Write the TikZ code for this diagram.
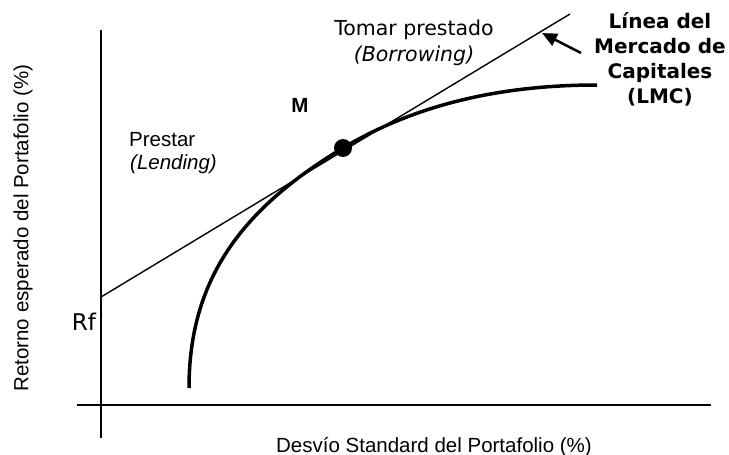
\documentclass[tikz,border=0pt]{standalone}
\usepackage{fontspec}
\setmainfont{DejaVu Sans}
\newfontfamily\arialf{Liberation Sans}
\usetikzlibrary{arrows.meta}
\begin{document}
\begin{tikzpicture}[x=1pt,y=-1pt,
  txt/.style={inner sep=0pt,font=\fontsize{20.5}{24}\selectfont},
  atxt/.style={inner sep=0pt,font=\arialf\fontsize{20.5}{24}\selectfont},
  axis/.style={line width=2pt},
  cml/.style={line width=1.4pt},
  frontier/.style={line width=3.5pt},
  pointer/.style={line width=2.5pt,-{Triangle[length=15pt,width=13pt]}}]
\useasboundingbox (0,0) rectangle (729,455);
% axes
\coordinate (ytop) at (101,30);
\coordinate (ybot) at (101,438);
\coordinate (xl) at (77,405);
\coordinate (xr) at (711,405);
\draw[axis] (ybot) -- (ytop);
\draw[axis] (xl) -- (xr);
% capital market line
\coordinate (rf) at (101,297);
\coordinate (cmlend) at (570,14);
\draw[cml] (rf) -- (cmlend);
% efficient frontier
\coordinate (fs) at (189,388);
\coordinate (M) at (343,148);
\coordinate (fe) at (597,85);
\draw[frontier] (fs) .. controls (189,278) and (243,208) .. (M)
  .. controls (413,106) and (497,85) .. (fe);
\fill (M) circle (9);
% labels
\node[txt,anchor=base] (tp) at (414,35) {Tomar prestado};
\node[txt,anchor=base] (bor) at (414,61) {\itshape (Borrowing)};
\node[atxt,anchor=center] (mlab) at (300,105) {\bfseries M};
\node[atxt,anchor=base west] (pre) at (129,146) {Prestar};
\node[atxt,anchor=base west] (len) at (130,169) {\itshape (Lending)};
\node[txt,anchor=base,font=\fontsize{23}{26}\selectfont] (rflab) at (84,330) {Rf};
\node[atxt,anchor=center,rotate=90] (ylab) at (23,228) {Retorno esperado del Portafolio (\%)};
\node[atxt,anchor=base] (xlab) at (434,452) {Desvío Standard del Portafolio (\%)};
\node[txt,anchor=north,align=center,font=\bfseries\fontsize{20}{25}\selectfont] (lmc) at (660,12)
  {Línea del\\Mercado de\\Capitales\\(LMC)};
\coordinate (arrtail) at (581,53);
\coordinate (arrtip) at (542,33);
\draw[pointer] (arrtail) -- (arrtip);
\end{tikzpicture}
\end{document}
